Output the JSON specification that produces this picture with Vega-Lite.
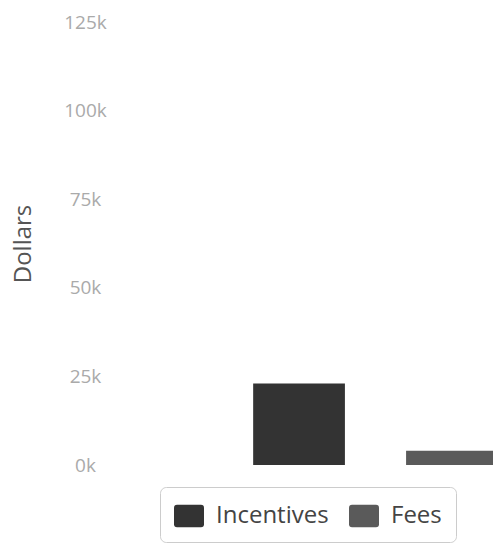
{
  "$schema": "https://vega.github.io/schema/vega-lite/v6.json",
  "autosize": {"type": "none"},
  "width": 353,
  "height": 443,
  "padding": {"left": 140, "top": 22, "right": 0, "bottom": 81},
  "background": "white",
  "config": {
    "view": {"stroke": null},
    "font": "Open Sans"
  },
  "data": {
    "values": [
      {"category": "Incentives", "amount": 23000},
      {"category": "Fees", "amount": 4000}
    ]
  },
  "mark": {"type": "bar", "clip": true},
  "encoding": {
    "x": {
      "field": "category",
      "type": "nominal",
      "sort": ["Incentives", "Fees"],
      "scale": {"range": [0, 471], "paddingInner": 0.4, "paddingOuter": 0.74},
      "axis": null
    },
    "y": {
      "field": "amount",
      "type": "quantitative",
      "scale": {"domain": [0, 125000], "nice": false},
      "axis": {
        "title": "Dollars",
        "titleFontSize": 24,
        "titleFontWeight": "normal",
        "titleColor": "#555",
        "titlePadding": 28,
        "values": [0, 25000, 50000, 75000, 100000, 125000],
        "labelExpr": "(datum.value / 1000) + 'k'",
        "labelAlign": "center",
        "labelPadding": 55,
        "labelFontSize": 19,
        "labelColor": "#aaa",
        "domain": false,
        "ticks": false,
        "grid": false
      }
    },
    "color": {
      "field": "category",
      "type": "nominal",
      "sort": ["Incentives", "Fees"],
      "scale": {"domain": ["Incentives", "Fees"], "range": ["#333333", "#5a5a5a"]},
      "legend": {
        "title": null,
        "orient": "none",
        "legendX": 20,
        "legendY": 465,
        "direction": "horizontal",
        "symbolType": "M-0.8,-0.75L0.8,-0.75Q1,-0.75 1,-0.55L1,0.55Q1,0.75 0.8,0.75L-0.8,0.75Q-1,0.75 -1,0.55L-1,-0.55Q-1,-0.75 -0.8,-0.75Z",
        "symbolSize": 900,
        "symbolStrokeWidth": 0,
        "labelFontSize": 24,
        "labelColor": "#444",
        "labelOffset": 12,
        "columnPadding": 20,
        "strokeColor": "#cccccc",
        "cornerRadius": 6,
        "padding": 14
      }
    }
  }
}
